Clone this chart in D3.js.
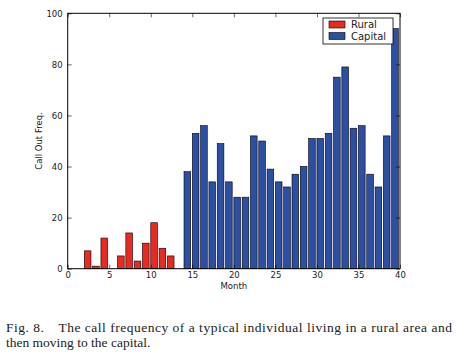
<!DOCTYPE html>
<html><head><meta charset="utf-8">
<script src="https://cdn.jsdelivr.net/npm/d3@7"></script>
<style>body{margin:0;background:#fff;}svg{display:block;}</style>
</head><body>
<svg id="c" width="460" height="355"></svg>
<script>
const ruralMonths = [2,3,4,5,6,7,8,9,10,11,12];
const ruralValues = [7,1,12,0,5,14,3,10,18,8,5];
const capitalMonths = [14,15,16,17,18,19,20,21,22,23,24,25,26,27,28,29,30,31,32,33,34,35,36,37,38,39];
const capitalValues = [38,53,56,34,49,34,28,28,52,50,39,34,32,37,40,51,51,53,75,79,55,56,37,32,52,94];
const xTicks = [0,5,10,15,20,25,30,35,40];
const yTicks = [0,20,40,60,80,100];
const seriesNames = ["Rural","Capital"];
const colors = ["#ea2a22","#2d4fa3"];
const captionLines = ["Fig. 8.\u2003The call frequency of a typical individual living in a rural area and","then moving to the capital."];

const svg = d3.select("#c");
const L=67.7, R=400, T=13.3, B=268.7;
const x = d3.scaleLinear().domain([0,40]).range([L,R]);
const y = d3.scaleLinear().domain([0,100]).range([B,T]);
const barW = 0.8;

function bars(months, vals, color){
  svg.append("g").selectAll("rect").data(months.map((m,i)=>({m,v:vals[i]}))).join("rect")
    .attr("x", d=>x(d.m)).attr("width", x(d3.min(months)+barW)-x(d3.min(months)))
    .attr("y", d=>y(d.v)).attr("height", d=>y(0)-y(d.v))
    .attr("fill", color).attr("stroke","#000").attr("stroke-width",0.6);
}
bars(ruralMonths, ruralValues, colors[0]);
bars(capitalMonths, capitalValues, colors[1]);

// frame
svg.append("rect").attr("x",L).attr("y",T).attr("width",R-L).attr("height",B-T)
  .attr("fill","none").attr("stroke","#000").attr("stroke-width",1);

const fontSans = "DejaVu Sans, sans-serif";
// axes with inward ticks
const xb = svg.append("g").attr("transform",`translate(0,${B})`)
  .call(d3.axisBottom(x).tickValues(xTicks).tickSize(-4).tickPadding(3).tickFormat(d3.format("d")));
const xt = svg.append("g").attr("transform",`translate(0,${T})`)
  .call(d3.axisTop(x).tickValues(xTicks).tickSize(-4).tickFormat(""));
const yl = svg.append("g").attr("transform",`translate(${L},0)`)
  .call(d3.axisLeft(y).tickValues(yTicks).tickSize(-4).tickPadding(5).tickFormat(d3.format("d")));
const yr = svg.append("g").attr("transform",`translate(${R},0)`)
  .call(d3.axisRight(y).tickValues(yTicks).tickSize(-4).tickFormat(""));
[xb,xt,yl,yr].forEach(g=>{
  g.select(".domain").remove();
  g.selectAll("text").attr("font-family",fontSans).attr("font-size","8.5px").attr("fill","#222");
  g.selectAll("line").attr("stroke","#000").attr("stroke-width",0.6);
});

svg.append("text").attr("x",(L+R)/2).attr("y",288.5).attr("text-anchor","middle")
  .attr("font-family",fontSans).attr("font-size","8.5px").attr("fill","#222").text("Month");
svg.append("text").attr("transform",`translate(42,${(T+B)/2}) rotate(-90)`).attr("text-anchor","middle")
  .attr("font-family",fontSans).attr("font-size","8.5px").attr("fill","#222").text("Call Out Freq.");

// legend
const lg = svg.append("g");
lg.append("rect").attr("x",323).attr("y",18).attr("width",70).attr("height",26)
  .attr("fill","#fff").attr("stroke","#000").attr("stroke-width",0.8);
seriesNames.forEach((n,i)=>{
  lg.append("rect").attr("x",329).attr("y",21+i*11.5).attr("width",16).attr("height",7)
    .attr("fill",colors[i]).attr("stroke","#000").attr("stroke-width",0.6);
  lg.append("text").attr("x",351).attr("y",28+i*11.5).attr("font-family",fontSans)
    .attr("font-size","10px").attr("fill","#222").text(n);
});

// caption
const cap = svg.append("g").attr("font-family","Liberation Serif, Times New Roman, serif")
  .attr("font-size","13.5px").attr("fill","#222");
cap.append("text").attr("x",6).attr("y",332).attr("textLength",446).attr("lengthAdjust","spacing")
  .attr("xml:space","preserve").style("white-space","pre").text(captionLines[0]);
cap.append("text").attr("x",6).attr("y",347).text(captionLines[1]);
</script>
</body></html>
